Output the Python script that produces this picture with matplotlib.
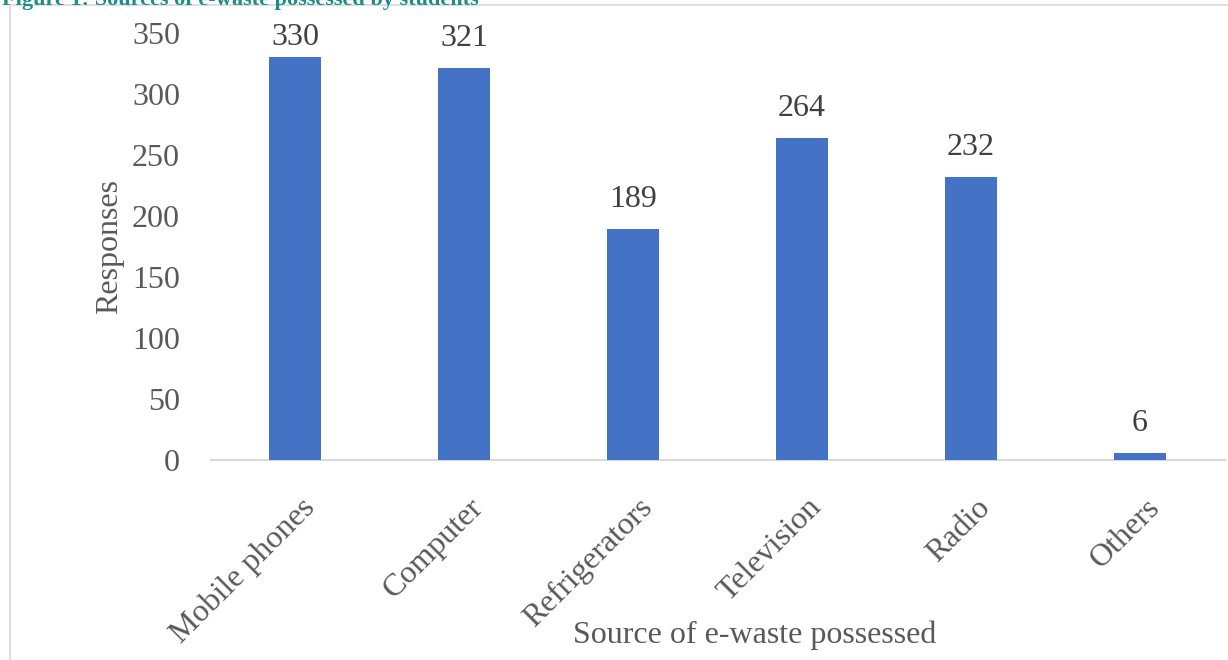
import matplotlib
matplotlib.use("Agg")
import matplotlib.pyplot as plt
import matplotlib.transforms as mtransforms
from matplotlib.patches import Rectangle

categories = ["Mobile phones", "Computer", "Refrigerators", "Television", "Radio", "Others"]
responses = [330, 321, 189, 264, 232, 6]
yticks = [0, 50, 100, 150, 200, 250, 300, 350]

plt.rcParams['font.family'] = ['Liberation Serif', 'DejaVu Serif']

W, H = 1228, 660
fig = plt.figure(figsize=(W / 100, H / 100), dpi=100)
fig.patch.set_facecolor('white')

# outer frame
fig.add_artist(Rectangle((10 / W, -0.01), 1.02, 1 - 5 / H + 0.01, transform=fig.transFigure,
                         fill=False, edgecolor='#D9D9D9', linewidth=1.2))

# cut-off figure title (as in the reference)
fig.text(2 / W, 1 - 5 / H, "Figure 1: Sources of e-waste possessed by students",
         color='#1E8C8C', fontsize=16, fontweight='bold', ha='left', va='baseline')

left, right = 210.5 / W, 1224.5 / W
bottom, top = (H - 460) / H, (H - 33) / H
ax = fig.add_axes([left, bottom, right - left, top - bottom])

x = list(range(len(categories)))
ax.bar(x, responses, width=0.31, color='#4472C4', zorder=3)
ax.set_xlim(-0.5, len(categories) - 0.5)
ax.set_ylim(0, 350)
ax.set_yticks(yticks)
ax.set_yticklabels([str(v) for v in yticks])

for s in ['top', 'right', 'left']:
    ax.spines[s].set_visible(False)
ax.spines['bottom'].set_color('#D9D9D9')
ax.spines['bottom'].set_linewidth(1.5)
ax.tick_params(axis='both', length=0)
ax.tick_params(axis='y', labelsize=23, labelcolor='#595959', pad=22)

ax.set_xticks(x)
ax.set_xticklabels(categories, rotation=45, ha='right', va='top', rotation_mode='anchor',
                   fontsize=23, color='#595959')
offset = mtransforms.ScaledTranslation(5 / 100, -28 / 100, fig.dpi_scale_trans)
for lbl in ax.get_xticklabels():
    lbl.set_transform(lbl.get_transform() + offset)

# data labels: placed above bars, kept inside the chart area like the reference
label_gap = 18      # data units between bar top and label baseline
label_cap = 340     # highest baseline allowed
for xi, v in zip(x, responses):
    ax.text(xi, min(v + label_gap, label_cap), str(v), ha='center', va='baseline',
            fontsize=23, color='#404040')

fig.text(110 / W, 1 - 246 / H, "Responses", rotation=90, ha='center', va='center',
         fontsize=23, color='#595959')
fig.text(755 / W, 1 - 635 / H, "Source of e-waste possessed", ha='center', va='center',
         fontsize=23, color='#595959')

fig.savefig("out.png", dpi=100)
